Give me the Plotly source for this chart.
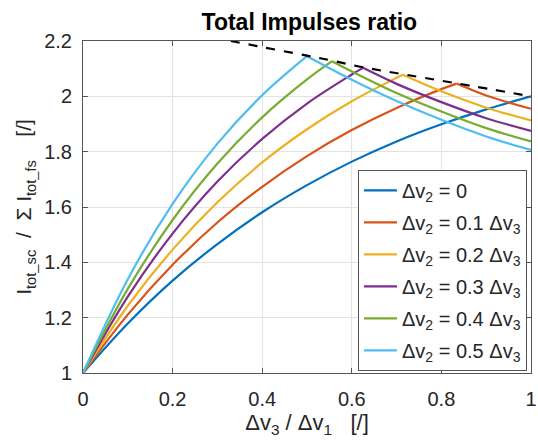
import plotly.graph_objects as go

# ---- data ----
blue_x = [0, 0.1, 0.2, 0.3, 0.4, 0.5, 0.6, 0.7, 0.8, 0.9, 1.0]
blue_y = [1, 1.179, 1.334, 1.466, 1.581, 1.679, 1.764, 1.837, 1.899, 1.953, 2.0]

red_x = [0, 0.1, 0.2, 0.3, 0.4, 0.5, 0.6, 0.7, 0.8, 0.834, 0.9, 1.0]
red_y = [1, 1.211, 1.391, 1.544, 1.673, 1.784, 1.878, 1.958, 2.026, 2.046, 2.003, 1.955]

orange_x = [0, 0.1, 0.2, 0.3, 0.4, 0.5, 0.6, 0.7, 0.714, 0.8, 0.9, 1.0]
orange_y = [1, 1.243, 1.446, 1.617, 1.761, 1.881, 1.982, 2.067, 2.078, 2.018, 1.959, 1.913]

purple_x = [0, 0.1, 0.2, 0.3, 0.4, 0.5, 0.6, 0.625, 0.7, 0.8, 0.9, 1.0]
purple_y = [1, 1.276, 1.504, 1.692, 1.846, 1.974, 2.079, 2.103, 2.045, 1.979, 1.921, 1.875]

green_x = [0, 0.1, 0.2, 0.3, 0.4, 0.5, 0.556, 0.6, 0.7, 0.8, 0.9, 1.0]
green_y = [1, 1.304, 1.553, 1.757, 1.924, 2.061, 2.127, 2.090, 2.012, 1.945, 1.885, 1.837]

cyan_x = [0, 0.1, 0.2, 0.3, 0.4, 0.5, 0.6, 0.7, 0.8, 0.9, 1.0]
cyan_y = [1, 1.339, 1.611, 1.829, 2.004, 2.145, 2.060, 1.983, 1.915, 1.855, 1.806]

env_x = [0.33, 0.4, 0.5, 0.556, 0.625, 0.714, 0.834, 1.0]
env_y = [2.2, 2.178, 2.147, 2.129, 2.105, 2.080, 2.047, 2.0]

series_names = [
    "Δv<sub>2</sub> = 0",
    "Δv<sub>2</sub> = 0.1 Δv<sub>3</sub>",
    "Δv<sub>2</sub> = 0.2 Δv<sub>3</sub>",
    "Δv<sub>2</sub> = 0.3 Δv<sub>3</sub>",
    "Δv<sub>2</sub> = 0.4 Δv<sub>3</sub>",
    "Δv<sub>2</sub> = 0.5 Δv<sub>3</sub>",
]
series_x = [blue_x, red_x, orange_x, purple_x, green_x, cyan_x]
series_y = [blue_y, red_y, orange_y, purple_y, green_y, cyan_y]
colors = ["#0072BD", "#D95319", "#EDB120", "#7E2F8E", "#77AC30", "#4DBEEE"]

x_ticks = [0, 0.2, 0.4, 0.6, 0.8, 1]
x_ticklabels = ["0", "0.2", "0.4", "0.6", "0.8", "1"]
y_ticks = [1, 1.2, 1.4, 1.6, 1.8, 2, 2.2]
y_ticklabels = ["1", "1.2", "1.4", "1.6", "1.8", "2", "2.2"]

FONT = "Arial, Liberation Sans, Helvetica, sans-serif"
TXT = "#262626"

fig = go.Figure()

for i, (name, xs, ys, col) in enumerate(zip(series_names, series_x, series_y, colors)):
    k = ys.index(max(ys))
    fig.add_trace(go.Scatter(
        x=xs[:k + 1], y=ys[:k + 1], mode="lines", name=name,
        line=dict(color=col, width=2.2, shape="spline"),
        legendgroup=f"g{i}", showlegend=True, hoverinfo="skip"))
    if k < len(xs) - 1:
        fig.add_trace(go.Scatter(
            x=xs[k:], y=ys[k:], mode="lines", name=name,
            line=dict(color=col, width=2.2, shape="spline"),
            legendgroup=f"g{i}", showlegend=False, hoverinfo="skip"))

fig.add_trace(go.Scatter(
    x=env_x, y=env_y, mode="lines", showlegend=False,
    line=dict(color="black", width=2.2, dash="dash", shape="spline"),
    hoverinfo="skip"))

axis_common = dict(
    showgrid=True, gridcolor="#e3e3e3", gridwidth=1,
    showline=True, linecolor="#555555", linewidth=1, mirror="ticks",
    ticks="inside", ticklen=5, tickcolor="#555555",
    tickfont=dict(family=FONT, size=20, color=TXT),
    ticklabeloverflow="allow",
    zeroline=False,
)

nb = "\u00a0"
fig.update_layout(
    width=538, height=440,
    margin=dict(l=83, r=1, t=41, b=67),
    paper_bgcolor="white", plot_bgcolor="white",
    title=dict(text="<b>Total Impulses ratio</b>", x=0.575, xanchor="center",
               y=0.95, yanchor="middle",
               font=dict(family=FONT, size=23, color="black")),
    xaxis=dict(range=[0, 1], tickvals=x_ticks, ticktext=x_ticklabels,
               ticklabelstandoff=8,
               title=dict(text=f"Δv<sub>3</sub>{nb}/{nb}Δv<sub>1</sub>{nb}{nb}{nb}[/]",
                          font=dict(family=FONT, size=22, color=TXT), standoff=4),
               **axis_common),
    yaxis=dict(range=[1, 2.2], tickvals=y_ticks, ticktext=y_ticklabels,
               ticklabelstandoff=6,
               title=dict(text=f"{nb}{nb}{nb}I<sub>tot_sc</sub>{nb}{nb}/{nb}{nb}Σ{nb}I<sub>tot_fs</sub>{nb}{nb}{nb}{nb}[/]",
                          font=dict(family=FONT, size=21, color=TXT), standoff=6),
               **axis_common),
    legend=dict(x=0.991, xanchor="right", y=0.612, yanchor="top",
                bgcolor="white", bordercolor="#555555", borderwidth=1,
                font=dict(family=FONT, size=20, color=TXT),
                tracegroupgap=3, itemwidth=33, traceorder="grouped"),
)

fig.write_html("out.html")
